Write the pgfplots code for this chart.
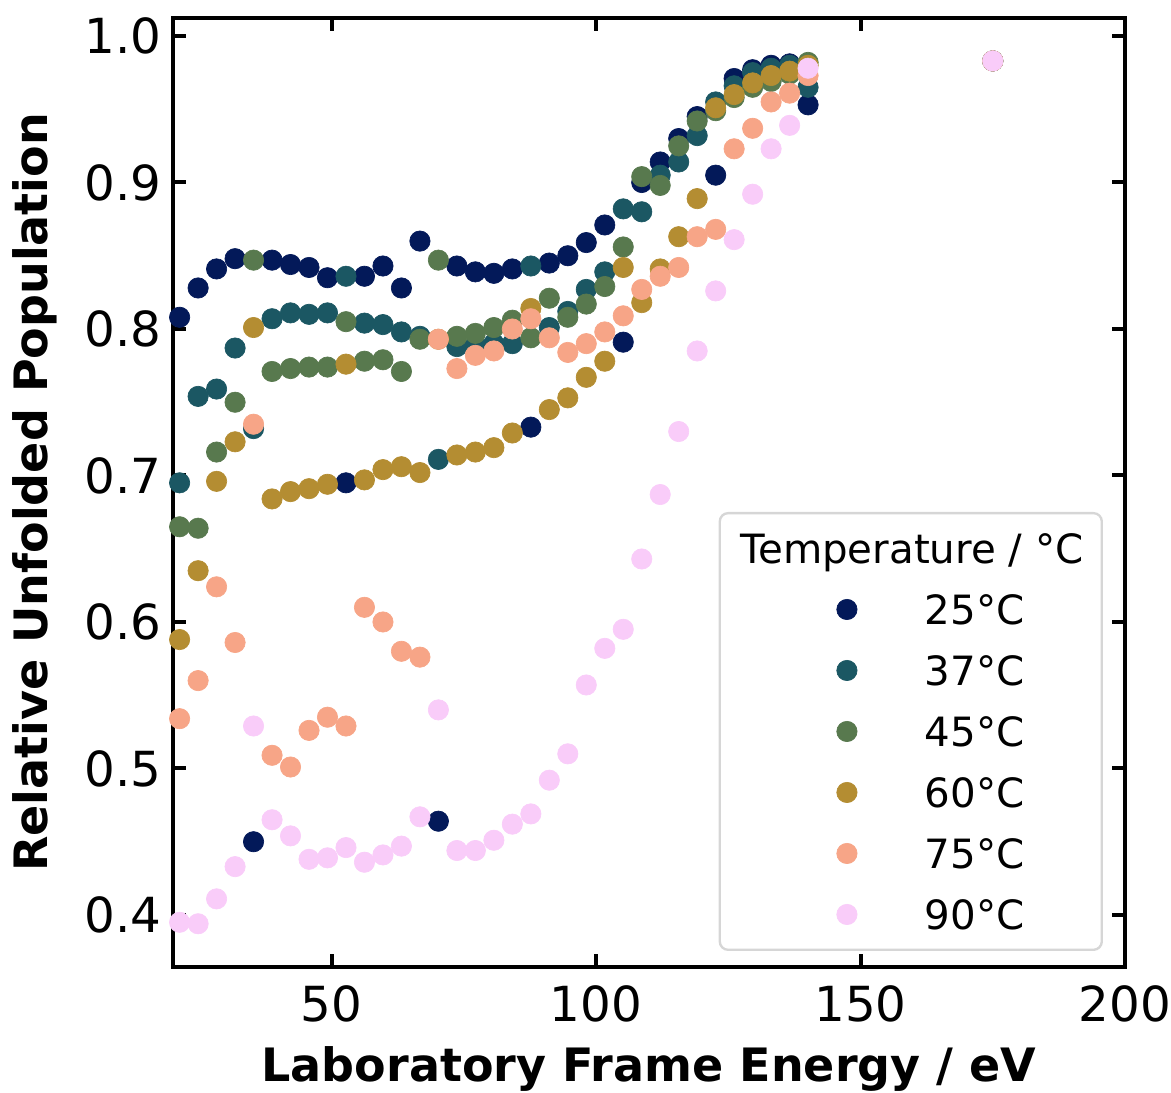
\documentclass[border=0pt]{standalone}
\usepackage{fontspec}
\setmainfont{DejaVu Sans}
\usepackage{pgfplots}
\pgfplotsset{compat=1.18}
\definecolor{c25}{RGB}{3,25,89}
\definecolor{c37}{RGB}{27,87,99}
\definecolor{c45}{RGB}{88,121,78}
\definecolor{c60}{RGB}{180,141,50}
\definecolor{c75}{RGB}{247,165,135}
\definecolor{c90}{RGB}{249,204,249}
\begin{document}
\begin{tikzpicture}
\begin{axis}[
  name=ax,
  scale only axis, width=285.6pt, height=284.7pt,
  xmin=20, xmax=200, ymin=0.3645, ymax=1.0123,
  xtick={50,100,150,200}, ytick={0.4,0.5,0.6,0.7,0.8,0.9,1.0},
  minor tick num=0,
  tick align=inside, major tick length=4pt,
  axis line style={line width=1.3pt},
  every tick/.style={black, line width=1.2pt},
  /pgf/number format/assume math mode=true,
  ticklabel style={font=\fontsize{14.5}{17}\selectfont},
  xticklabel style={yshift=-2pt},
  yticklabel style={/pgf/number format/fixed, /pgf/number format/fixed zerofill, /pgf/number format/precision=1},
  xlabel={Laboratory Frame Energy / eV},
  ylabel={Relative Unfolded Population},
  label style={font=\fontsize{13.8}{16}\selectfont\bfseries},
  xlabel style={at={(axis description cs:0.5,-0.1075)}, anchor=center},
  ylabel style={at={(axis description cs:-0.145,0.5)}, anchor=center},
  legend style={at={(1,0)}, anchor=south east, xshift=-6.6pt, yshift=4.8pt,
    draw={rgb,255:red,214;green,214;blue,214}, line width=0.7pt, rounded corners=2.5pt,
    fill=white, inner xsep=5.5pt, inner ysep=6.2pt, row sep=9.5pt, column sep=0pt,
    font=\fontsize{12.1}{14.5}\selectfont,
    nodes={inner sep=0pt, text height=8.8pt, text depth=0pt, anchor=west}},
  legend cell align=left,
  legend image code/.code={\path (0pt,0pt) (55.3pt,0pt); \draw[#1] plot coordinates {(32.3pt,0pt)};},
]
\addlegendimage{empty legend}
\addlegendentry{\hspace*{-55.3pt}Temperature / °C}

\addplot[only marks, mark=*, color=c25, mark size=3.05pt, mark options={line width=0.2pt}] table {
21.25 0.808
24.75 0.828
28.24 0.841
31.74 0.848
35.23 0.450
38.73 0.847
42.22 0.844
45.72 0.842
49.21 0.835
52.71 0.695
56.20 0.836
59.70 0.843
63.19 0.828
66.69 0.860
70.18 0.464
73.68 0.843
77.17 0.839
80.67 0.838
84.16 0.841
87.66 0.733
91.15 0.845
94.65 0.850
98.14 0.859
101.64 0.871
105.13 0.791
108.63 0.900
112.12 0.914
115.62 0.930
119.11 0.945
122.61 0.905
126.10 0.971
129.60 0.977
133.09 0.980
136.59 0.981
140.08 0.953
175.00 0.983
};
\addlegendentry{25°C}

\addplot[only marks, mark=*, color=c37, mark size=3.05pt, mark options={line width=0.2pt}] table {
21.25 0.695
24.75 0.754
28.24 0.759
31.74 0.787
35.23 0.732
38.73 0.807
42.22 0.811
45.72 0.810
49.21 0.811
52.71 0.836
56.20 0.804
59.70 0.803
63.19 0.798
66.69 0.795
70.18 0.711
73.68 0.788
77.17 0.789
80.67 0.790
84.16 0.790
87.66 0.843
91.15 0.801
94.65 0.812
98.14 0.827
101.64 0.839
105.13 0.882
108.63 0.880
112.12 0.905
115.62 0.914
119.11 0.932
122.61 0.955
126.10 0.966
129.60 0.975
133.09 0.978
136.59 0.980
140.08 0.965
175.00 0.983
};
\addlegendentry{37°C}

\addplot[only marks, mark=*, color=c45, mark size=3.05pt, mark options={line width=0.2pt}] table {
21.25 0.665
24.75 0.664
28.24 0.716
31.74 0.750
35.23 0.847
38.73 0.771
42.22 0.773
45.72 0.774
49.21 0.774
52.71 0.805
56.20 0.778
59.70 0.779
63.19 0.771
66.69 0.793
70.18 0.847
73.68 0.795
77.17 0.797
80.67 0.801
84.16 0.806
87.66 0.794
91.15 0.821
94.65 0.808
98.14 0.817
101.64 0.829
105.13 0.856
108.63 0.904
112.12 0.898
115.62 0.925
119.11 0.942
122.61 0.949
126.10 0.958
129.60 0.965
133.09 0.969
136.59 0.974
140.08 0.982
175.00 0.983
};
\addlegendentry{45°C}

\addplot[only marks, mark=*, color=c60, mark size=3.05pt, mark options={line width=0.2pt}] table {
21.25 0.588
24.75 0.635
28.24 0.696
31.74 0.723
35.23 0.801
38.73 0.684
42.22 0.689
45.72 0.691
49.21 0.694
52.71 0.776
56.20 0.697
59.70 0.704
63.19 0.706
66.69 0.702
70.18 0.793
73.68 0.714
77.17 0.716
80.67 0.719
84.16 0.729
87.66 0.814
91.15 0.745
94.65 0.753
98.14 0.767
101.64 0.778
105.13 0.842
108.63 0.818
112.12 0.841
115.62 0.863
119.11 0.889
122.61 0.951
126.10 0.960
129.60 0.968
133.09 0.973
136.59 0.976
140.08 0.980
175.00 0.983
};
\addlegendentry{60°C}

\addplot[only marks, mark=*, color=c75, mark size=3.05pt, mark options={line width=0.2pt}] table {
21.25 0.534
24.75 0.560
28.24 0.624
31.74 0.586
35.23 0.735
38.73 0.509
42.22 0.501
45.72 0.526
49.21 0.535
52.71 0.529
56.20 0.610
59.70 0.600
63.19 0.580
66.69 0.576
70.18 0.793
73.68 0.773
77.17 0.782
80.67 0.785
84.16 0.800
87.66 0.807
91.15 0.794
94.65 0.784
98.14 0.790
101.64 0.798
105.13 0.809
108.63 0.827
112.12 0.836
115.62 0.842
119.11 0.863
122.61 0.868
126.10 0.923
129.60 0.937
133.09 0.955
136.59 0.961
140.08 0.973
175.00 0.983
};
\addlegendentry{75°C}

\addplot[only marks, mark=*, color=c90, mark size=3.05pt, mark options={line width=0.2pt}] table {
21.25 0.395
24.75 0.394
28.24 0.411
31.74 0.433
35.23 0.529
38.73 0.465
42.22 0.454
45.72 0.438
49.21 0.439
52.71 0.446
56.20 0.436
59.70 0.441
63.19 0.447
66.69 0.467
70.18 0.540
73.68 0.444
77.17 0.444
80.67 0.451
84.16 0.462
87.66 0.469
91.15 0.492
94.65 0.510
98.14 0.557
101.64 0.582
105.13 0.595
108.63 0.643
112.12 0.687
115.62 0.730
119.11 0.785
122.61 0.826
126.10 0.861
129.60 0.892
133.09 0.923
136.59 0.939
140.08 0.978
175.00 0.983
};
\addlegendentry{90°C}
\end{axis}
\pgfresetboundingbox
\path ([shift={(-51.9pt,-37.8pt)}]ax.south west) rectangle ([shift={(13.8pt,5.4pt)}]ax.north east);
\end{tikzpicture}
\end{document}
